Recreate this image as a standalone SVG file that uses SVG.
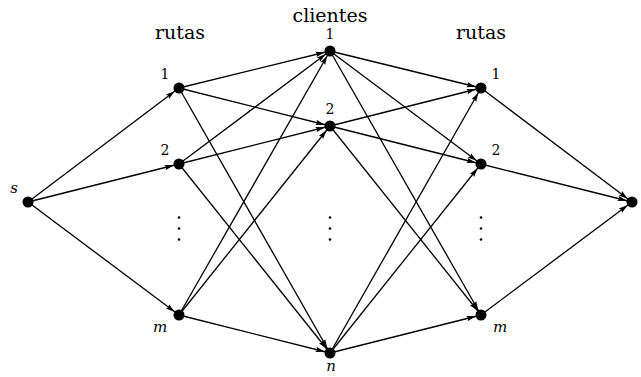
<svg xmlns="http://www.w3.org/2000/svg" width="641" height="377" viewBox="0 0 641 377">
<style>
.e{stroke:#000;stroke-width:1.3;fill:none;marker-end:url(#ah)}
.n{fill:#000}
text{font-family:'DejaVu Serif','Liberation Serif',serif;fill:#000;text-anchor:middle}
.h{font-size:19px}
.d{font-size:14px}
.i{font-style:italic;font-size:15px}
</style>
<defs>
<marker id="ah" markerUnits="userSpaceOnUse" viewBox="0 -5 20 10" markerWidth="20" markerHeight="10" refX="14.5" refY="0" orient="auto">
<path d="M0,-2.7 L9,0 L0,2.7 L1.5,0 z" fill="#000"/>
</marker>
</defs>
<rect width="641" height="377" fill="#fff"/>
<g id="connectors">
<line class="e" x1="28" y1="202" x2="179" y2="88"/>
<line class="e" x1="28" y1="202" x2="179" y2="164"/>
<line class="e" x1="28" y1="202" x2="179" y2="315"/>
<line class="e" x1="179" y1="88" x2="330" y2="51"/>
<line class="e" x1="179" y1="88" x2="330" y2="126"/>
<line class="e" x1="179" y1="88" x2="330" y2="353"/>
<line class="e" x1="179" y1="164" x2="330" y2="51"/>
<line class="e" x1="179" y1="164" x2="330" y2="126"/>
<line class="e" x1="179" y1="164" x2="330" y2="353"/>
<line class="e" x1="179" y1="315" x2="330" y2="51"/>
<line class="e" x1="179" y1="315" x2="330" y2="126"/>
<line class="e" x1="179" y1="315" x2="330" y2="353"/>
<line class="e" x1="330" y1="51" x2="481" y2="88"/>
<line class="e" x1="330" y1="51" x2="481" y2="164"/>
<line class="e" x1="330" y1="51" x2="481" y2="315"/>
<line class="e" x1="330" y1="126" x2="481" y2="88"/>
<line class="e" x1="330" y1="126" x2="481" y2="164"/>
<line class="e" x1="330" y1="126" x2="481" y2="315"/>
<line class="e" x1="330" y1="353" x2="481" y2="88"/>
<line class="e" x1="330" y1="353" x2="481" y2="164"/>
<line class="e" x1="330" y1="353" x2="481" y2="315"/>
<line class="e" x1="481" y1="88" x2="632" y2="202"/>
<line class="e" x1="481" y1="164" x2="632" y2="202"/>
<line class="e" x1="481" y1="315" x2="632" y2="202"/>
</g>
<g id="s"><circle class="n" cx="28" cy="202" r="5.5"/><text class="i" x="14" y="193">s</text></g>
<g id="r1"><circle class="n" cx="179" cy="88" r="5.5"/><text class="d" x="165" y="79">1</text></g>
<g id="r2"><circle class="n" cx="179" cy="164" r="5.5"/><text class="d" x="165" y="155">2</text></g>
<g id="rm"><circle class="n" cx="179" cy="315" r="5.5"/><text class="i" x="160" y="332">m</text></g>
<g id="c1"><circle class="n" cx="330" cy="51" r="5.5"/><text class="d" x="330" y="39">1</text></g>
<g id="c2"><circle class="n" cx="330" cy="126" r="5.5"/><text class="d" x="330" y="114">2</text></g>
<g id="cn"><circle class="n" cx="330" cy="353" r="5.5"/><text class="i" x="331" y="371">n</text></g>
<g id="p1"><circle class="n" cx="481" cy="88" r="5.5"/><text class="d" x="496" y="79">1</text></g>
<g id="p2"><circle class="n" cx="481" cy="164" r="5.5"/><text class="d" x="496" y="155">2</text></g>
<g id="pm"><circle class="n" cx="481" cy="315" r="5.5"/><text class="i" x="500" y="332">m</text></g>
<g id="sink"><circle class="n" cx="632" cy="202" r="5.5"/></g>
<g id="vdots">
<circle cx="179" cy="217.5" r="1.3"/><circle cx="179" cy="228.5" r="1.3"/><circle cx="179" cy="239.5" r="1.3"/>
<circle cx="330" cy="217.5" r="1.3"/><circle cx="330" cy="228.5" r="1.3"/><circle cx="330" cy="239.5" r="1.3"/>
<circle cx="481" cy="217.5" r="1.3"/><circle cx="481" cy="228.5" r="1.3"/><circle cx="481" cy="239.5" r="1.3"/>
</g>
<g id="headers">
<text class="h" x="180" y="39">rutas</text>
<text class="h" x="330" y="22">clientes</text>
<text class="h" x="481" y="39">rutas</text>
</g>
</svg>
